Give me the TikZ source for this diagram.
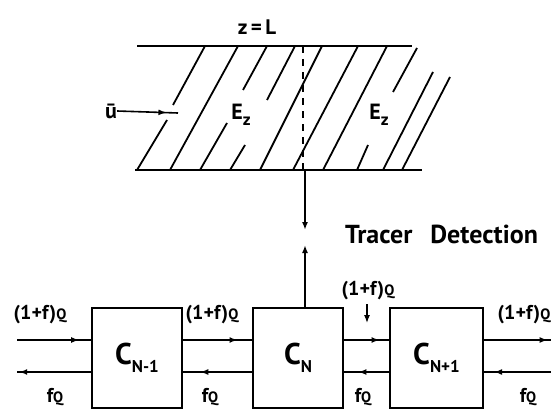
\documentclass[tikz,border=0pt]{standalone}
\usepackage{fontspec}
\setmainfont{PT Sans}
\usetikzlibrary{arrows.meta,decorations.markings}

\tikzset{
  cell/.style={draw, line width=2pt, minimum height=100pt, inner sep=0pt, font=\fontsize{30}{32}\selectfont\bfseries},
  flow/.style={line width=1.6pt, postaction={decorate},
    decoration={markings, mark=at position #1 with {\arrow{Latex[length=8pt,width=6pt]}}}},
  flow/.default=0.85,
  arr/.style={line width=1.6pt, -{Latex[length=8pt,width=6pt]}},
  lbl/.style={font=\fontsize{20}{22}\selectfont\bfseries, inner sep=0pt},
  hatch/.style={line width=1.8pt},
}
\newcommand{\lowsub}[1]{\raisebox{-0.55ex}{\fontsize{17}{18}\selectfont #1}}
\newcommand{\smq}{{\fontsize{15}{16}\selectfont Q}}

\begin{document}
\begin{tikzpicture}[x=1pt, y=-1pt]
\useasboundingbox (0,0) rectangle (551,412);

% Level 1: the bed
\node[lbl, font=\fontsize{21}{23}\selectfont\bfseries] (zl) at (257,27) {z\,=\,L};
\draw[line width=2pt] (137,46) -- (412,46);
\draw[line width=2pt] (135,170) -- (422,170);
\draw[line width=1.6pt, dash pattern=on 7pt off 6pt] (303,46) -- (303,170);

% hatching
\draw[hatch] (137,170) -- (167,120) (173,105) -- (205,46);
\draw[hatch] (170,170) -- (238,46);
\draw[hatch] (200,170) -- (227,123) (243,90) -- (267,46);
\draw[hatch] (230,170) -- (245,145) (267,100) -- (295,46);
\draw[hatch] (260,170) -- (322,46);
\draw[hatch] (293,170) -- (358,46);
\draw[hatch] (323,170) -- (387,46);
\draw[hatch] (357,170) -- (368,145) (393,92) -- (417,48);
\draw[hatch] (383,170) -- (433,72);
\draw[hatch] (402,170) -- (450,77);

\node[lbl, font=\fontsize{22}{24}\selectfont\bfseries] (ubar) at (111,111) {ū};
\coordinate (uend) at (178,113);
\node[lbl, fill=white, inner sep=1pt, font=\fontsize{22}{24}\selectfont\bfseries] (ez1) at (241,115) {E\lowsub{z}};
\node[lbl, fill=white, inner sep=1pt, font=\fontsize{22}{24}\selectfont\bfseries] (ez2) at (379,115) {E\lowsub{z}};

% Level 2: tracer detection
\coordinate (bandbot) at (305,170);
\coordinate (detA) at (305,230);
\coordinate (detB) at (305,245);
\node[lbl, anchor=west, font=\fontsize{26}{28}\selectfont\bfseries] (tracer) at (345,234) {Tracer\hspace{18pt}Detection};

% Level 3: the cells
\node[cell, minimum width=90pt] (cprev) at (137,358) {C\lowsub{N-1}};
\node[cell, minimum width=90pt] (cn) at (298,358) {C\lowsub{N}};
\node[cell, minimum width=93pt] (cnext) at (436.5,358) {C\lowsub{N+1}};

% free ends
\coordinate (inL) at (17,340);
\coordinate (outL) at (17,372);
\coordinate (outR) at (551,340);
\coordinate (inR) at (551,372);
\coordinate (qtop) at (367,304);
\coordinate (qbot) at (367,323);

% flow labels
\node[lbl] (q1) at (40,315) {(1+f)\smq};
\node[lbl] (q2) at (212,315) {(1+f)\smq};
\node[lbl] (q3) at (368,291) {(1+f)\smq};
\node[lbl] (q4) at (524,315) {(1+f)\smq};
\node[lbl] (f1) at (55,397) {f\smq};
\node[lbl] (f2) at (210,397) {f\smq};
\node[lbl] (f3) at (363,397) {f\smq};
\node[lbl] (f4) at (528,397) {f\smq};

% Arrows (bed to detection)
\draw[flow=0.81] (ubar.east) -- (uend);
\draw[arr] (bandbot) -- (detA);
\draw[arr] ([xshift=7pt]cn.north) -- (detB);

% Arrows (between cells)
\draw[flow=0.84] (inL) -- ([yshift=18pt]cprev.west);
\draw[flow=0.97] ([yshift=-14pt]cprev.west) -- (outL);
\draw[flow=0.79] ([yshift=18pt]cprev.east) -- ([yshift=18pt]cn.west);
\draw[flow=0.75] ([yshift=-14pt]cn.west) -- ([yshift=-14pt]cprev.east);
\draw[flow=0.79] ([yshift=18pt]cn.east) -- ([yshift=18pt]cnext.west);
\draw[flow=0.68] ([yshift=-14pt]cnext.west) -- ([yshift=-14pt]cn.east);
\draw[flow=0.95] ([yshift=18pt]cnext.east) -- (outR);
\draw[flow=0.85] (inR) -- ([yshift=-14pt]cnext.east);
\draw[arr, line width=1.2pt] (qtop) -- (qbot);
\end{tikzpicture}
\end{document}
